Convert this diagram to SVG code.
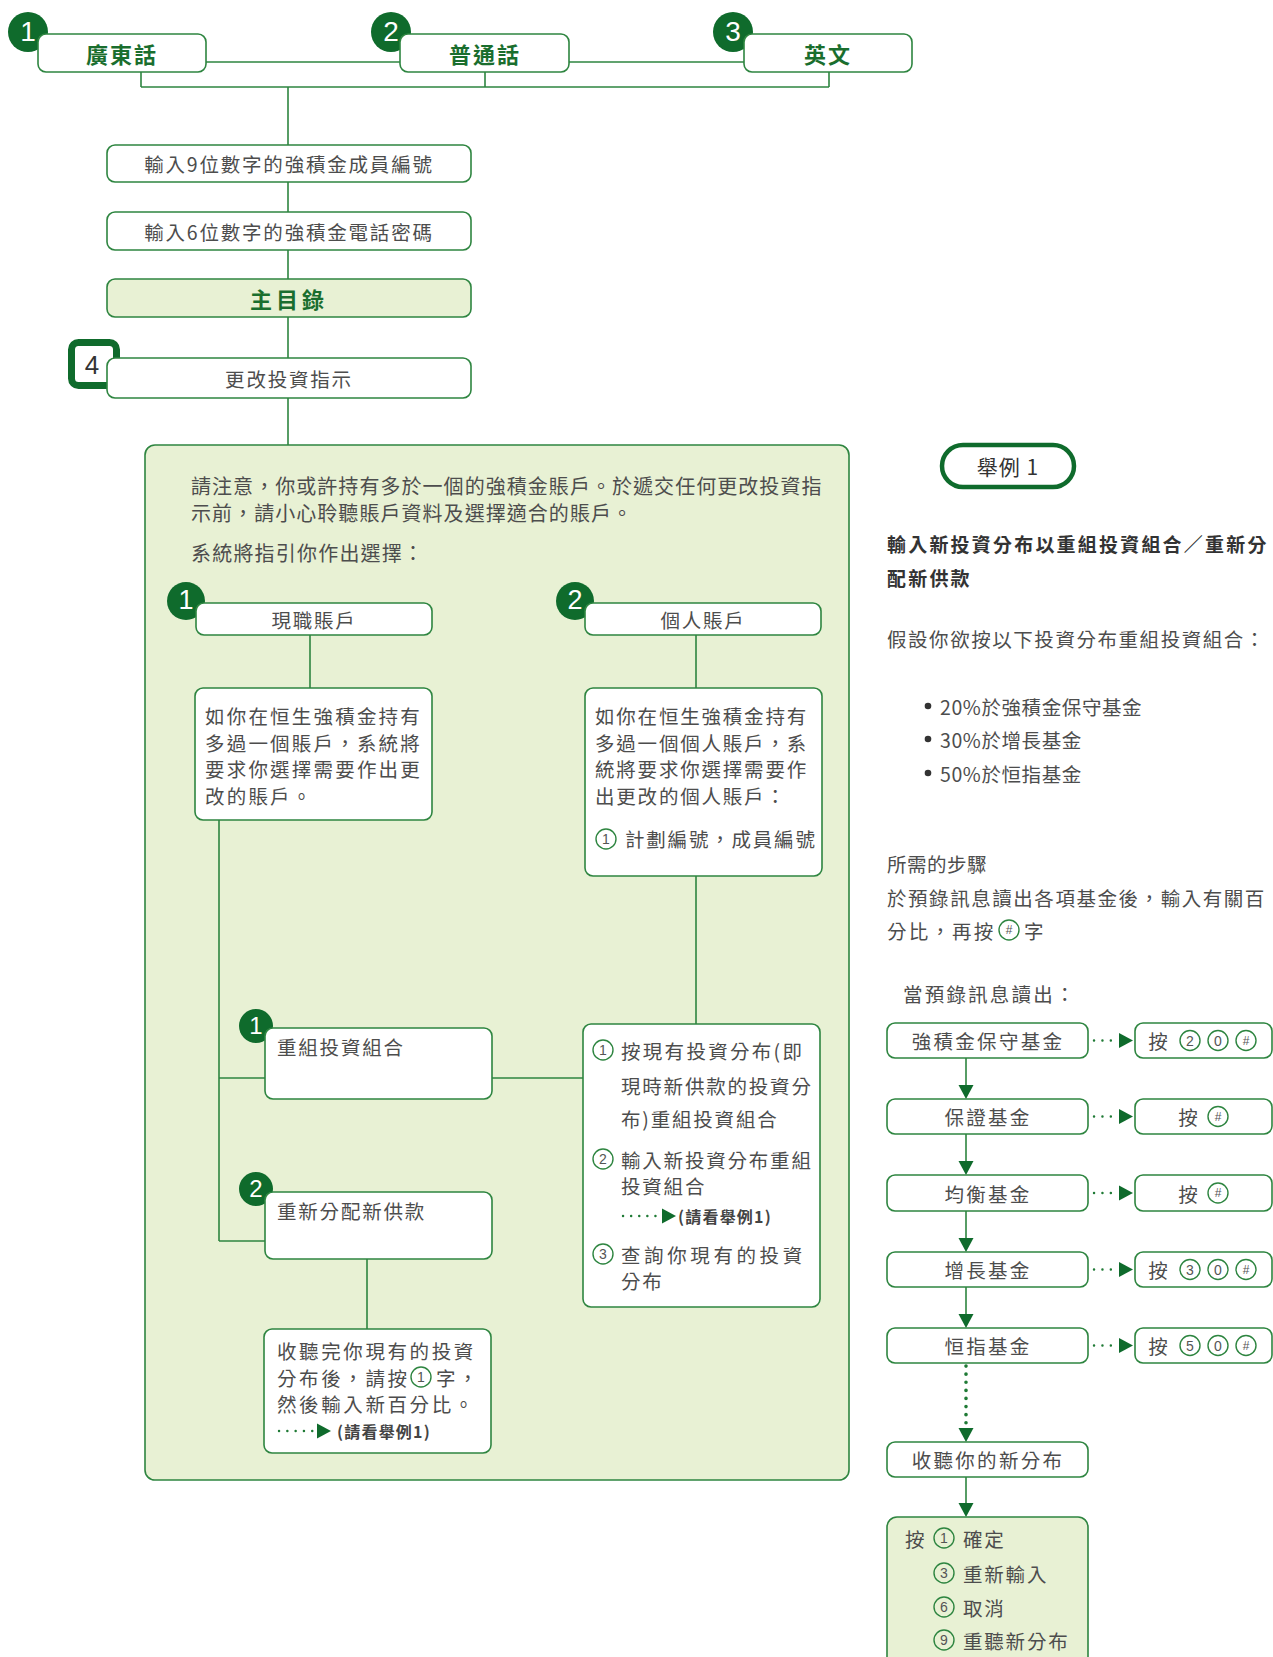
<svg xmlns="http://www.w3.org/2000/svg" xmlns:xlink="http://www.w3.org/1999/xlink" width="1273" height="1657" viewBox="0 0 1273 1657">
<style>
.box{fill:#fff;stroke:#2e8540;stroke-width:1.6}
.gbox{fill:#e8f1d4;stroke:#2e8540;stroke-width:1.6}
.ln{fill:none;stroke:#2e8540;stroke-width:1.6}
.dot{fill:none;stroke:#1f7a35;stroke-width:2.4;stroke-linecap:round}
.badge{fill:#0f6b2c}
.bn{font-family:"Liberation Sans",sans-serif;fill:#fff;font-size:28px;text-anchor:middle;dominant-baseline:central}
.t{font-family:"Noto Sans CJK TC","Noto Sans",sans-serif;fill:#4d4d4d;font-size:19.5px;dominant-baseline:central;letter-spacing:1.8px}
.c{text-anchor:middle}
.lt{font-family:"Noto Sans CJK TC",sans-serif;fill:#1a6e2e;font-size:22px;font-weight:bold;text-anchor:middle;dominant-baseline:central;letter-spacing:2px}
.h{font-family:"Noto Sans CJK TC",sans-serif;fill:#333;font-size:19px;font-weight:bold;dominant-baseline:central;letter-spacing:2.2px}
.see{font-family:"Noto Sans CJK TC",sans-serif;fill:#444;font-size:16px;font-weight:bold;dominant-baseline:central;letter-spacing:1.2px}
.cc{fill:none;stroke:#2e8540;stroke-width:1.4}
.cn{font-family:"Liberation Sans",sans-serif;fill:#555;font-size:14px;text-anchor:middle;dominant-baseline:central}
.tri{fill:#0f6b2c}
</style>
<defs>
<path id="tr" d="M0,-7.5 L14,0 L0,7.5 z"/>
<path id="trd" d="M-7.5,0 L7.5,0 L0,14 z"/>
</defs>

<g id="n-panel">
<rect class="gbox" x="145" y="445" width="704" height="1035" rx="10"/>
<text class="t" x="191" y="485" style="font-size:20px;letter-spacing:1.05px">請注意，你或許持有多於一個的強積金賬戶。於遞交任何更改投資指</text>
<text class="t" x="191" y="512" style="font-size:20px;letter-spacing:1.05px">示前，請小心聆聽賬戶資料及選擇適合的賬戶。</text>
<text class="t" x="191" y="552" style="font-size:20px;letter-spacing:1.2px">系統將指引你作出選擇：</text>
</g>

<g id="connectors">
<path class="ln" d="M206,62 H400 M569,62 H744 M141,72 V87 M485,72 V87 M829,72 V87 M141,87 H829"/>
<path class="ln" d="M288,87 V145 M288,182 V212 M288,250 V279 M288,317 V358 M288,398 V445"/>
<path class="ln" d="M310,635 V688 M696,635 V688 M219,820 V1241 M219,1078 H265 M219,1241 H265 M492,1078 H583 M696,876 V1024 M367,1259 V1329"/>
<path class="ln" d="M966,1058 V1086 M966,1134 V1162 M966,1211 V1239 M966,1287 V1315 M966,1477 V1504"/>
<g class="tri">
<use xlink:href="#trd" x="966" y="1085"/>
<use xlink:href="#trd" x="966" y="1161"/>
<use xlink:href="#trd" x="966" y="1238"/>
<use xlink:href="#trd" x="966" y="1314"/>
<use xlink:href="#trd" x="966" y="1428"/>
<use xlink:href="#trd" x="966" y="1503"/>
<use xlink:href="#tr" x="1119" y="1040.5"/>
<use xlink:href="#tr" x="1119" y="1116.5"/>
<use xlink:href="#tr" x="1119" y="1193"/>
<use xlink:href="#tr" x="1119" y="1269.5"/>
<use xlink:href="#tr" x="1119" y="1345.5"/>
</g>
<path class="dot" stroke-dasharray="0.1 8.3" d="M1094,1040.5 H1113 M1094,1116.5 H1113 M1094,1193 H1113 M1094,1269.5 H1113 M1094,1345.5 H1113"/>
<path class="dot" stroke-dasharray="0.1 8" style="stroke-width:3.6" d="M966,1366 V1423"/>
</g>

<g id="n-cantonese">
<circle class="badge" cx="28" cy="32" r="20"/>
<text class="bn" x="28" y="31">1</text>
<rect class="box" x="38" y="34" width="168" height="38" rx="8"/>
<text class="lt" x="122" y="53">廣東話</text>
</g>
<g id="n-putonghua">
<circle class="badge" cx="391" cy="32" r="20"/>
<text class="bn" x="391" y="31">2</text>
<rect class="box" x="400" y="34" width="169" height="38" rx="8"/>
<text class="lt" x="485" y="53">普通話</text>
</g>
<g id="n-english">
<circle class="badge" cx="733" cy="32" r="20"/>
<text class="bn" x="733" y="31">3</text>
<rect class="box" x="744" y="34" width="168" height="38" rx="8"/>
<text class="lt" x="828" y="53">英文</text>
</g>

<g id="n-member">
<rect class="box" x="107" y="145" width="364" height="37" rx="8"/>
<text class="t c" x="289" y="163.5">輸入9位數字的強積金成員編號</text>
</g>
<g id="n-pin">
<rect class="box" x="107" y="212" width="364" height="38" rx="8"/>
<text class="t c" x="289" y="231">輸入6位數字的強積金電話密碼</text>
</g>
<g id="n-menu">
<rect class="gbox" x="107" y="279" width="364" height="38" rx="8"/>
<text class="lt" x="289" y="298" style="letter-spacing:4px">主目錄</text>
</g>
<g id="n-change">
<rect x="71.5" y="342.5" width="45" height="43" rx="7" fill="#fff" stroke="#0f6b2c" stroke-width="7"/>
<text x="92" y="365" style="font-family:'Liberation Sans',sans-serif;font-size:26px;fill:#333;text-anchor:middle;dominant-baseline:central">4</text>
<rect class="box" x="107" y="358" width="364" height="40" rx="8"/>
<text class="t c" x="289" y="378">更改投資指示</text>
</g>

<g id="n-current">
<circle class="badge" cx="186" cy="601" r="19"/>
<text class="bn" x="186" y="600" style="font-size:27px">1</text>
<rect class="box" x="196" y="603" width="236" height="32" rx="8"/>
<text class="t c" x="314" y="619">現職賬戶</text>
</g>
<g id="n-personal">
<circle class="badge" cx="575" cy="601" r="19"/>
<text class="bn" x="575" y="600" style="font-size:27px">2</text>
<rect class="box" x="585" y="603" width="236" height="32" rx="8"/>
<text class="t c" x="703" y="619">個人賬戶</text>
</g>

<g id="n-current-desc">
<rect class="box" x="195" y="688" width="237" height="132" rx="8"/>
<text class="t" x="205" y="715" style="letter-spacing:2.2px">如你在恒生強積金持有</text>
<text class="t" x="205" y="742" style="letter-spacing:2.2px">多過一個賬戶，系統將</text>
<text class="t" x="205" y="768" style="letter-spacing:2.2px">要求你選擇需要作出更</text>
<text class="t" x="205" y="795" style="letter-spacing:2.2px">改的賬戶。</text>
</g>
<g id="n-personal-desc">
<rect class="box" x="585" y="688" width="237" height="188" rx="8"/>
<text class="t" x="595" y="715">如你在恒生強積金持有</text>
<text class="t" x="595" y="742">多過一個個人賬戶，系</text>
<text class="t" x="595" y="768">統將要求你選擇需要作</text>
<text class="t" x="595" y="795">出更改的個人賬戶：</text>
<circle class="cc" cx="606" cy="839" r="10"/>
<text class="cn" x="606" y="839">1</text>
<text class="t" x="625" y="838">計劃編號，成員編號</text>
</g>

<g id="n-rebalance">
<circle class="badge" cx="256" cy="1026" r="17"/>
<text class="bn" x="256" y="1025" style="font-size:24px">1</text>
<rect class="box" x="265" y="1028" width="227" height="71" rx="8"/>
<text class="t" x="277" y="1046">重組投資組合</text>
</g>
<g id="n-redirect">
<circle class="badge" cx="256" cy="1189" r="17"/>
<text class="bn" x="256" y="1188" style="font-size:24px">2</text>
<rect class="box" x="265" y="1192" width="227" height="67" rx="8"/>
<text class="t" x="277" y="1210">重新分配新供款</text>
</g>

<g id="n-options">
<rect class="box" x="583" y="1024" width="237" height="283" rx="8"/>
<circle class="cc" cx="603" cy="1050" r="10"/>
<text class="cn" x="603" y="1050">1</text>
<text class="t" x="621" y="1050" style="letter-spacing:2.3px">按現有投資分布(即</text>
<text class="t" x="621" y="1085">現時新供款的投資分</text>
<text class="t" x="621" y="1118">布)重組投資組合</text>
<circle class="cc" cx="603" cy="1159" r="10"/>
<text class="cn" x="603" y="1159">2</text>
<text class="t" x="621" y="1159">輸入新投資分布重組</text>
<text class="t" x="621" y="1185">投資組合</text>
<path class="dot" stroke-dasharray="0.1 8" d="M623,1216 H656"/>
<use class="tri" xlink:href="#tr" x="662" y="1216"/>
<text class="see" x="678" y="1216">(請看舉例1)</text>
<circle class="cc" cx="603" cy="1254" r="10"/>
<text class="cn" x="603" y="1254">3</text>
<text class="t" x="621" y="1254" style="letter-spacing:3.6px">查詢你現有的投資</text>
<text class="t" x="621" y="1280">分布</text>
</g>

<g id="n-listen">
<rect class="box" x="264" y="1329" width="227" height="124" rx="8"/>
<text class="t" x="277" y="1350" style="letter-spacing:2.6px">收聽完你現有的投資</text>
<text class="t" x="277" y="1377" style="letter-spacing:2.6px">分布後，請按</text>
<circle class="cc" cx="421" cy="1377" r="10"/>
<text class="cn" x="421" y="1377">1</text>
<text class="t" x="436" y="1377" style="letter-spacing:2.6px">字，</text>
<text class="t" x="277" y="1403" style="letter-spacing:2.6px">然後輸入新百分比。</text>
<path class="dot" stroke-dasharray="0.1 8.2" d="M279,1431 H313"/>
<use class="tri" xlink:href="#tr" x="317" y="1431"/>
<text class="see" x="337" y="1431">(請看舉例1)</text>
</g>

<g id="n-example-title">
<rect x="942" y="445" width="132" height="42" rx="21" fill="#fff" stroke="#0f6b2c" stroke-width="4.5"/>
<text x="1008" y="466" style="font-family:'Noto Sans CJK TC',sans-serif;font-size:21px;fill:#333;text-anchor:middle;dominant-baseline:central;letter-spacing:1px">舉例 1</text>
</g>

<g id="n-example-text">
<text class="h" x="887" y="543">輸入新投資分布以重組投資組合／重新分</text>
<text class="h" x="887" y="577">配新供款</text>
<text class="t" x="887" y="638" style="letter-spacing:1.55px">假設你欲按以下投資分布重組投資組合：</text>
<circle cx="928" cy="706" r="3.3" fill="#333"/>
<text class="t" x="940" y="706" style="letter-spacing:0.6px">20%於強積金保守基金</text>
<circle cx="928" cy="739" r="3.3" fill="#333"/>
<text class="t" x="940" y="739" style="letter-spacing:0.6px">30%於增長基金</text>
<circle cx="928" cy="773" r="3.3" fill="#333"/>
<text class="t" x="940" y="773" style="letter-spacing:0.6px">50%於恒指基金</text>
<text class="t" x="887" y="863" style="letter-spacing:0.5px">所需的步驟</text>
<text class="t" x="887" y="897" style="letter-spacing:1.55px">於預錄訊息讀出各項基金後，輸入有關百</text>
<text class="t" x="887" y="930" style="letter-spacing:2.2px">分比，再按</text>
<circle class="cc" cx="1009" cy="930" r="10"/>
<text class="cn" x="1009" y="930" style="font-size:12px">#</text>
<text class="t" x="1024" y="930">字</text>
<text class="t" x="903" y="993" style="letter-spacing:2.2px">當預錄訊息讀出：</text>
</g>

<g id="n-f1">
<rect class="box" x="887" y="1023" width="201" height="35" rx="8"/>
<text class="t c" x="988" y="1040.5" style="letter-spacing:2.3px">強積金保守基金</text>
</g>
<g id="n-p1">
<rect class="box" x="1135" y="1023" width="137" height="35" rx="8"/>
<text class="t c" x="1159" y="1040.5">按</text>
<circle class="cc" cx="1190" cy="1040.5" r="10"/><text class="cn" x="1190" y="1040.5">2</text>
<circle class="cc" cx="1218" cy="1040.5" r="10"/><text class="cn" x="1218" y="1040.5">0</text>
<circle class="cc" cx="1246" cy="1040.5" r="10"/><text class="cn" x="1246" y="1040.5" style="font-size:12px">#</text>
</g>
<g id="n-f2">
<rect class="box" x="887" y="1099" width="201" height="35" rx="8"/>
<text class="t c" x="988" y="1116.5" style="letter-spacing:2.3px">保證基金</text>
</g>
<g id="n-p2">
<rect class="box" x="1135" y="1099" width="137" height="35" rx="8"/>
<text class="t c" x="1189" y="1116.5">按</text>
<circle class="cc" cx="1218" cy="1116.5" r="10"/><text class="cn" x="1218" y="1116.5" style="font-size:12px">#</text>
</g>
<g id="n-f3">
<rect class="box" x="887" y="1175" width="201" height="36" rx="8"/>
<text class="t c" x="988" y="1193" style="letter-spacing:2.3px">均衡基金</text>
</g>
<g id="n-p3">
<rect class="box" x="1135" y="1175" width="137" height="36" rx="8"/>
<text class="t c" x="1189" y="1193">按</text>
<circle class="cc" cx="1218" cy="1193" r="10"/><text class="cn" x="1218" y="1193" style="font-size:12px">#</text>
</g>
<g id="n-f4">
<rect class="box" x="887" y="1252" width="201" height="35" rx="8"/>
<text class="t c" x="988" y="1269.5" style="letter-spacing:2.3px">增長基金</text>
</g>
<g id="n-p4">
<rect class="box" x="1135" y="1252" width="137" height="35" rx="8"/>
<text class="t c" x="1159" y="1269.5">按</text>
<circle class="cc" cx="1190" cy="1269.5" r="10"/><text class="cn" x="1190" y="1269.5">3</text>
<circle class="cc" cx="1218" cy="1269.5" r="10"/><text class="cn" x="1218" y="1269.5">0</text>
<circle class="cc" cx="1246" cy="1269.5" r="10"/><text class="cn" x="1246" y="1269.5" style="font-size:12px">#</text>
</g>
<g id="n-f5">
<rect class="box" x="887" y="1328" width="201" height="35" rx="8"/>
<text class="t c" x="988" y="1345.5" style="letter-spacing:2.3px">恒指基金</text>
</g>
<g id="n-p5">
<rect class="box" x="1135" y="1328" width="137" height="35" rx="8"/>
<text class="t c" x="1159" y="1345.5">按</text>
<circle class="cc" cx="1190" cy="1345.5" r="10"/><text class="cn" x="1190" y="1345.5">5</text>
<circle class="cc" cx="1218" cy="1345.5" r="10"/><text class="cn" x="1218" y="1345.5">0</text>
<circle class="cc" cx="1246" cy="1345.5" r="10"/><text class="cn" x="1246" y="1345.5" style="font-size:12px">#</text>
</g>
<g id="n-hear">
<rect class="box" x="887" y="1442" width="201" height="35" rx="8"/>
<text class="t c" x="988" y="1459.5" style="letter-spacing:2.3px">收聽你的新分布</text>
</g>
<g id="n-confirm">
<rect class="gbox" x="887" y="1517" width="201" height="150" rx="10"/>
<text class="t" x="905" y="1538">按</text>
<circle class="cc" cx="944" cy="1538" r="10"/><text class="cn" x="944" y="1538">1</text>
<text class="t" x="963" y="1538">確定</text>
<circle class="cc" cx="944" cy="1573" r="10"/><text class="cn" x="944" y="1573">3</text>
<text class="t" x="963" y="1573">重新輸入</text>
<circle class="cc" cx="944" cy="1607" r="10"/><text class="cn" x="944" y="1607">6</text>
<text class="t" x="963" y="1607">取消</text>
<circle class="cc" cx="944" cy="1640" r="10"/><text class="cn" x="944" y="1640">9</text>
<text class="t" x="963" y="1640">重聽新分布</text>
</g>
</svg>
